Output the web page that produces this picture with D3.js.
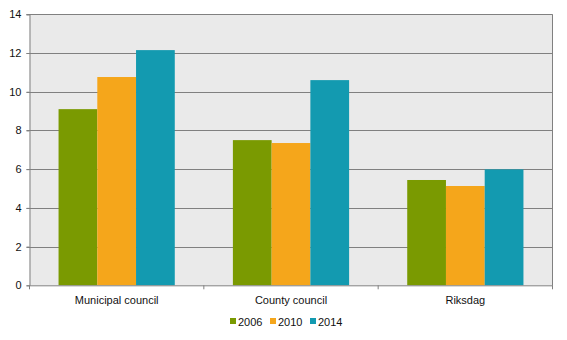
<!DOCTYPE html>
<html><head><meta charset="utf-8">
<script src="https://cdn.jsdelivr.net/npm/d3@7"></script>
<style>body{margin:0;background:#fff}svg{display:block}text{font-family:Arial,"Liberation Sans",sans-serif}</style>
</head><body>
<svg id="c" width="567" height="340"></svg>
<script>
const categories = ["Municipal council","County council","Riksdag"];
const seriesNames = ["2006","2010","2014"];
const values2006 = [9.1, 7.5, 5.44];
const values2010 = [10.76, 7.35, 5.13];
const values2014 = [12.15, 10.6, 5.99];
const yTicks = [0,2,4,6,8,10,12,14];
const colors = ["#7A9A01","#F5A61B","#139AB0"];

const series = [values2006, values2010, values2014];
const svg = d3.select("#c");
const L = 29.5, R = 552.5, T = 14.3, B = 285.3;
const gridColor = "#808080";
const x = d3.scaleBand().domain(categories).range([L, R]).paddingInner(0).paddingOuter(0);
const xs = d3.scaleBand().domain(seriesNames).range([0, x.bandwidth()]).paddingInner(0).paddingOuter(0.75);
const y = d3.scaleLinear().domain([0,14]).range([B, T]);

svg.append("rect").attr("x", L).attr("y", T).attr("width", R-L).attr("height", B-T).attr("fill", "#EAEAEA");

// gridlines
svg.append("g").selectAll("line").data(yTicks.slice(1)).join("line")
  .attr("x1", L-3).attr("x2", R).attr("y1", d=>Math.round(y(d))+0.5).attr("y2", d=>Math.round(y(d))+0.5)
  .attr("stroke", gridColor).attr("stroke-width", 1);

// bars
categories.forEach((c, ci) => {
  seriesNames.forEach((s, si) => {
    svg.append("rect")
      .attr("x", x(c) + xs(s)).attr("width", xs.bandwidth())
      .attr("y", y(series[si][ci])).attr("height", B - y(series[si][ci]))
      .attr("fill", colors[si]);
  });
});

// right border
svg.append("line").attr("x1", R).attr("x2", R).attr("y1", T).attr("y2", B).attr("stroke", gridColor);

// y axis
const yAxis = d3.axisLeft(y).tickValues(yTicks).tickSize(3).tickPadding(5);
const gy = svg.append("g").attr("transform", `translate(${L},0)`).call(yAxis);
gy.select(".domain").attr("stroke", gridColor);
gy.selectAll(".tick line").attr("stroke", gridColor);
gy.selectAll(".tick text").attr("font-size", 11).attr("fill", "#111").style("font-family","Arial,'Liberation Sans',sans-serif");

// x axis
const xAxis = d3.axisBottom(x).tickSize(0).tickPadding(11);
const gx = svg.append("g").attr("transform", `translate(0,${B})`).call(xAxis);
gx.select(".domain").attr("stroke", gridColor);
gx.selectAll(".tick text").attr("font-size", 11).attr("fill", "#111").style("font-family","Arial,'Liberation Sans',sans-serif");
// boundary ticks
const bounds = categories.map(c => x(c)).concat([R]);
svg.append("g").selectAll("line").data(bounds).join("line")
  .attr("x1", d=>d).attr("x2", d=>d).attr("y1", B).attr("y2", B+4).attr("stroke", gridColor);

// legend
const lg = svg.append("g");
const lx = [230, 270, 310];
seriesNames.forEach((s, i) => {
  lg.append("rect").attr("x", lx[i]).attr("y", 318).attr("width", 6).attr("height", 6).attr("fill", colors[i]);
  lg.append("text").attr("x", lx[i]+8).attr("y", 325.5).attr("font-size", 11).attr("fill", "#111").text(s);
});
</script>
</body></html>
